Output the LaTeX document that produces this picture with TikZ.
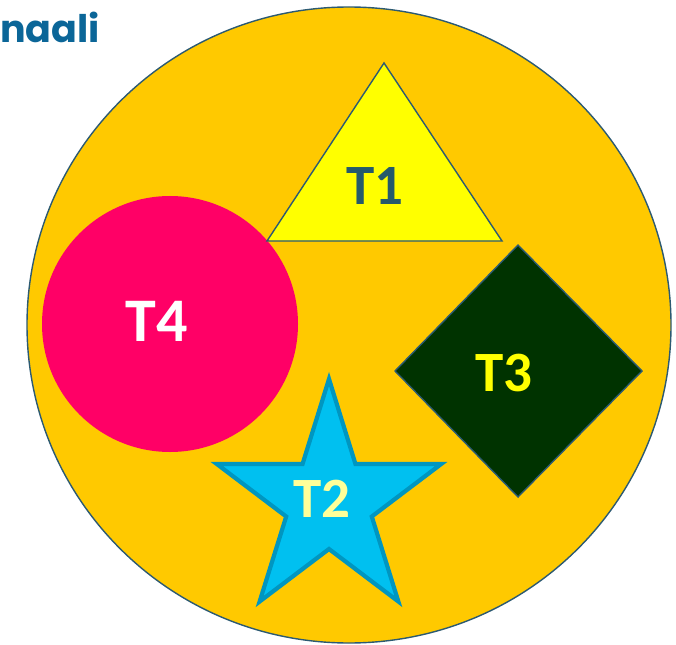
\documentclass[tikz,border=0pt]{standalone}
\usepackage{fontspec}
\usetikzlibrary{calc}
\setmainfont{Carlito}
\newfontfamily\handfont{Poppins}
\definecolor{bigfill}{HTML}{FFC900}
\definecolor{slate}{HTML}{2C5A72}
\definecolor{triyellow}{HTML}{FFFF00}
\definecolor{tonetext}{HTML}{255A6B}
\definecolor{starfill}{HTML}{00C0F0}
\definecolor{starline}{HTML}{0096C0}
\definecolor{ttwotext}{HTML}{FFFF99}
\definecolor{diafill}{HTML}{003300}
\definecolor{pinkfill}{HTML}{FF0066}
\definecolor{titleblue}{HTML}{0B6698}
\tikzset{
  lbl/.style={font=\fontsize{57}{60}\selectfont\bfseries, inner sep=0pt},
  thinedge/.style={draw=slate, line width=1.4pt},
}
\begin{document}
\begin{tikzpicture}[x=1pt,y=-1pt]
\useasboundingbox (0,0) rectangle (676,644);
% big circle
\draw[thinedge, fill=bigfill] (349,325) ellipse [x radius=322, y radius=318];
% title
\node[anchor=base west, inner sep=0pt, text=titleblue, font=\handfont\fontsize{38}{40}\selectfont\bfseries] (title) at (0,43) {naali};
% T4 circle
\fill[pinkfill] (170,324) circle [radius=128];
\node[lbl, text=white, font=\fontsize{62}{64}\selectfont\bfseries] (t4) at (157,321) {T4};
% T1 triangle
\draw[thinedge, line join=miter, fill=triyellow] (384,63) -- (502,241) -- (267,241) -- cycle;
\node[lbl, text=tonetext] (t1) at (375,186) {T1};
% T3 diamond
\draw[thinedge, fill=diafill] (518,245) -- (642,371) -- (518,497) -- (395,371) -- cycle;
\node[lbl, text=triyellow] (t3) at (504,373) {T3};
% T2 star
\coordinate (sc) at (329,502);
\foreach \k in {0,...,4} {
  \coordinate (o\k) at ($(sc)+({118*cos(-90+72*\k)},{123*sin(-90+72*\k)})$);
  \coordinate (i\k) at ($(sc)+({45*cos(-54+72*\k)},{47*sin(-54+72*\k)})$);
}
\draw[draw=starline, line width=4.2pt, line join=miter, fill=starfill]
  (o0) -- (i0) -- (o1) -- (i1) -- (o2) -- (i2) -- (o3) -- (i3) -- (o4) -- (i4) -- cycle;
\node[lbl, text=ttwotext] (t2) at (322,499) {T2};
\end{tikzpicture}
\end{document}
